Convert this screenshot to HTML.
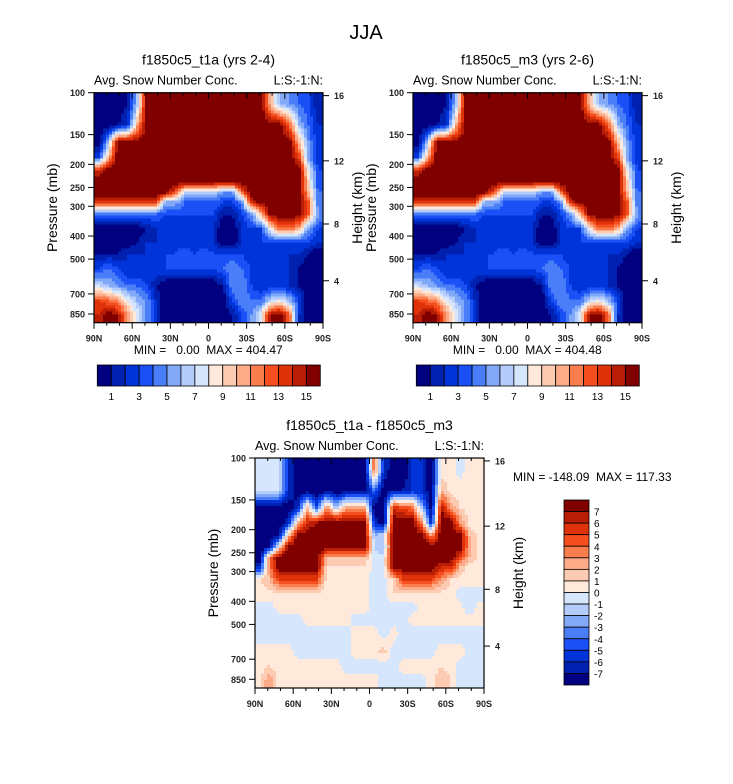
<!DOCTYPE html>
<html><head><meta charset="utf-8"><style>
html,body{margin:0;padding:0;background:#fff;}
svg{display:block;font-family:"Liberation Sans",sans-serif;}
text{white-space:pre;}
</style></head><body>
<svg id="root" width="733" height="784" viewBox="0 0 733 784">
<text x="366" y="39" font-size="20" text-anchor="middle">JJA</text>
</svg>
<script>
// ---- data ----
const latTicks = ["90N","60N","30N","0","30S","60S","90S"];
const pressTicks = [100,150,200,250,300,400,500,700,850];
const heightTicks = [4,8,12,16];
const pEdges = [100,125,150,175,200,225,250,275,300,350,400,450,500,600,700,800,924];
const topLevelLabels = ["1","3","5","7","9","11","13","15"];
const diffLevelLabels = ["7","6","5","4","3","2","1","0","-1","-2","-3","-4","-5","-6","-7"];
const t1aValues = [
[0,0,0,1,6,16,16,16,16,16,16,16,16,16,16,16,16,16,10,6,5,4,3,1],
[0,0,1,2,10,16,16,16,16,16,16,16,16,16,16,16,16,16,16,16,12,6,4,2],
[0,6,16,16,16,16,16,16,16,16,16,16,16,16,16,16,16,16,16,16,16,10,5,2],
[3,10,16,16,16,16,16,16,16,16,16,16,16,16,16,16,16,16,16,16,16,13,5,2],
[14,16,16,16,16,16,16,16,16,16,16,16,16,16,16,16,16,16,16,16,16,16,8,3],
[16,16,16,16,16,16,16,16,16,16,16,16,16,16,16,16,16,16,16,16,16,16,9,3],
[16,16,16,16,16,16,16,16,13,7,7,7,7,5,5,12,16,16,16,16,16,16,10,4],
[14,14,14,14,14,14,14,6,6,4,4,4,4,3,3,5,14,16,16,16,16,16,12,4],
[4,4,4,4,4,4,4,3,3,3,3,3,3,1,1,3,5,10,16,16,16,16,12,5],
[0,0,0,0,0,1,2,2,2,2,2,2,2,0,0,2,3,3,8,12,12,10,5,3],
[0,0,0,0,1,2,2,2,2,2,2,2,2,0,0,2,2,3,3,3,3,3,3,2],
[1,1,1,2,2,2,2,3,3,4,3,4,3,3,3,3,2,2,2,2,2,2,1,0],
[3,4,3,2,2,2,3,3,3,3,3,3,3,4,5,4,3,3,3,2,2,1,0,0],
[7,6,5,4,4,3,1,0,0,0,0,0,0,1,5,5,3,2,2,2,2,1,0,0],
[13,12,11,8,6,5,2,0,0,0,0,0,0,0,3,5,4,4,7,8,6,3,0,0],
[14,16,15,11,8,5,2,0,0,0,0,0,0,0,1,3,5,8,15,16,12,2,0,0]
];
const m3Values = t1aValues.map(r => r.slice());
const diffValues = [
[-0.5,-0.5,-0.5,-6,-8,-8,-8,-8,-8,-8,-8,-8,4,-6,-8,-8,-6,-6,-8,0.5,0.5,-0.5,0.5,0.5],
[-0.5,-0.5,-0.5,-6,-8,-8,-8,-8,-8,-8,-8,-8,-4,-8,-7,-7,-6,-6,-8,2,0.5,0.5,0.5,0.5],
[-8,-8,-8,-8,-6,2,-5,4,-2,3,3,3,-8,-8,6,5,4,-2,-8,7,3,1,0.5,0.5],
[-8,-8,-8,-6,2,6,7,8,8,8,8,8,-6,-8,8,8,8,3,-6,8,8,3,0.5,0.5],
[-8,-8,-7,2,8,8,8,8,8,8,8,8,-2,-1,8,8,8,8,3,8,8,8,2,0.5],
[-8,-7,0.5,8,8,8,8,8,8,8,8,8,-1,-2,8,8,8,8,8,8,8,8,2,0.5],
[-8,4,8,8,8,8,8,2,2,2,2,2,-0.5,-0.5,8,8,8,8,8,8,8,5,2,0.5],
[-6,3,8,8,8,8,8,1,1,1,1,1,-0.5,-0.5,8,8,8,8,8,6,6,2,0.5,0.5],
[1,2,5,5,5,5,5,0.5,0.5,0.5,0.5,0.5,-0.5,-0.5,1,5,5,5,5,3,1,0.5,0.5,0.5],
[0.5,0.5,0.5,0.5,0.5,0.5,0.5,0.5,0.5,0.5,0.5,0.5,-0.5,-0.5,1,1,1,1,0.5,0.5,0.5,-0.5,-0.5,-0.5],
[-0.5,-0.5,0.5,0.5,0.5,0.5,0.5,0.5,0.5,0.5,0.5,0.5,-0.5,-0.5,-0.5,-0.5,-0.5,0.5,0.5,0.5,0.5,0.5,-1,0.5],
[-0.5,-0.5,-0.5,-0.5,-0.5,0.5,0.5,0.5,0.5,0.5,-0.5,-0.5,-0.5,-0.5,-0.5,-0.5,0.5,0.5,0.5,0.5,0.5,0.5,0.5,0.5],
[-0.5,-0.5,-0.5,-0.5,-0.5,-0.5,-0.5,-0.5,-0.5,-0.5,0.5,0.5,0.5,-0.5,0.5,-0.5,-0.5,-0.5,-0.5,-0.5,-0.5,-0.5,-0.5,-0.5],
[0.5,0.5,0.5,0.5,-0.5,-0.5,-0.5,-0.5,-0.5,-0.5,0.5,0.5,0.5,1.5,-0.5,-0.5,-0.5,-0.5,-0.5,0.5,0.5,0.5,-0.5,-0.5],
[0.5,1,0.5,0.5,0.5,0.5,0.5,0.5,0.5,-0.5,-0.5,-0.5,-0.5,-0.5,-0.5,0.5,0.5,0.5,0.5,1,0.5,-0.5,-0.5,-0.5],
[0.5,3,0.5,0.5,0.5,0.5,0.5,0.5,0.5,0.5,0.5,0.5,0.5,-0.5,-0.5,-0.5,-0.5,-0.5,0.5,2,1,-0.5,-0.5,-0.5]
];
const palette = ["#000080","#0020b0","#0033d8","#1a50f5","#4a7ef8","#82a8f8","#b3ccfb","#d6e6fc","#ffe9da","#fdcab2","#fcaa88","#fa7d4e","#f54f1f","#e03208","#b81d05","#800000"];

// ---- drawing ----
const NS = "http://www.w3.org/2000/svg";
const root = document.getElementById("root");
function mk(tag, attrs, parent) {
  const e = document.createElementNS(NS, tag);
  for (const k in attrs) e.setAttribute(k, attrs[k]);
  (parent || root).appendChild(e);
  return e;
}
const PW = 229, PH = 230, STEP = 3;
function stdP(zkm) {
  const z = zkm * 1000;
  if (z <= 11000) return 1013.25 * Math.pow(1 - 2.2558e-5 * z, 5.2559);
  return 226.3 * Math.exp(-(z - 11000) / 6341.6);
}
function panel(cfg) {
  const x0 = cfg.x, y0 = cfg.y;
  const xOfLat = lat => x0 + (90 - lat) / 180 * PW;
  const yOfP = p => y0 + 103.4 * Math.log(p / 100);
  const g = mk("g", {});
  
  
  const fg = mk("g", {"shape-rendering": "crispEdges"}, g);
  
  
  const vals = cfg.values;
  const nr = vals.length, nc = vals[0].length;
  const xc = [], yc = [];
  for (let c = 0; c < nc; c++) xc.push((xOfLat(90 - 180 * c / nc) + xOfLat(90 - 180 * (c + 1) / nc)) / 2);
  for (let r = 0; r < nr; r++) yc.push((yOfP(pEdges[r]) + yOfP(pEdges[r + 1])) / 2);
  function frac(arr, v) {
    if (v <= arr[0]) return [0, 0, 0];
    const n = arr.length;
    if (v >= arr[n - 1]) return [n - 1, n - 1, 0];
    for (let i = 0; i < n - 1; i++) {
      if (v >= arr[i] && v <= arr[i + 1]) return [i, i + 1, (v - arr[i]) / (arr[i + 1] - arr[i])];
    }
    return [0, 0, 0];
  }
  for (let yy = y0; yy < y0 + PH; yy += STEP) {
    const hh = Math.min(STEP, y0 + PH - yy);
    const [r0, r1, ty] = frac(yc, yy + hh / 2);
    let runStart = x0, runIdx = -1;
    const flush = (xe) => {
      if (runIdx < 0) return;
      const cell = mk("rect", {x: runStart, y: yy, width: xe - runStart, height: hh, fill: palette[runIdx]}, fg);
      
      
    };
    for (let xx = x0; xx < x0 + PW; xx += STEP) {
      const ww = Math.min(STEP, x0 + PW - xx);
      const [c0, c1, tx] = frac(xc, xx + ww / 2);
      const v = (vals[r0][c0] * (1 - tx) + vals[r0][c1] * tx) * (1 - ty) +
                (vals[r1][c0] * (1 - tx) + vals[r1][c1] * tx) * ty;
      const idx = Math.max(0, Math.min(15, Math.floor(v) + cfg.offset));
      if (idx !== runIdx) { flush(xx); runStart = xx; runIdx = idx; }
    }
    flush(x0 + PW);
  }
  mk("rect", {x: x0, y: y0, width: PW, height: PH, fill: "none", stroke: "#000", "stroke-width": 1.2}, g);
  for (let lat = 90; lat >= -90; lat -= 10) {
    const x = xOfLat(lat), major = lat % 30 === 0;
    const L = major ? 6 : 3;
    mk("line", {x1: x, y1: y0 + PH, x2: x, y2: y0 + PH + L, stroke: "#000", "stroke-width": 1}, g);
    mk("line", {x1: x, y1: y0, x2: x, y2: y0 + L, stroke: "#000", "stroke-width": 1}, g);
  }
  latTicks.forEach((t, i) => {
    const lt = mk("text", {x: xOfLat(90 - 30 * i), y: y0 + PH + 19, "font-size": 9, "font-weight": "bold", "text-anchor": "middle", fill: "#222"}, g);
    lt.textContent = t;
    
    
  });
  pressTicks.forEach(p => {
    const y = yOfP(p);
    mk("line", {x1: x0 - 6, y1: y, x2: x0, y2: y, stroke: "#000"}, g);
    const pt = mk("text", {x: x0 - 9, y: y + 3.5, "font-size": 9, "font-weight": "bold", "text-anchor": "end", fill: "#222"}, g);
    pt.textContent = p;
    
    
  });
  heightTicks.forEach(h => {
    const y = yOfP(stdP(h));
    mk("line", {x1: x0 + PW, y1: y, x2: x0 + PW + 6, y2: y, stroke: "#000"}, g);
    const ht = mk("text", {x: x0 + PW + 11, y: y + 3.5, "font-size": 9, "font-weight": "bold", fill: "#222"}, g);
    ht.textContent = h;
    
    
  });
  const t1 = mk("text", {x: x0 + PW / 2, y: y0 - 28, "font-size": 14, "text-anchor": "middle"}, g);
  t1.textContent = cfg.title;
  
  
  const t2 = mk("text", {x: x0, y: y0 - 8, "font-size": 12.5}, g);
  t2.textContent = "Avg. Snow Number Conc.";
  
  
  const t3 = mk("text", {x: x0 + PW, y: y0 - 8, "font-size": 12.5, "text-anchor": "end"}, g);
  t3.textContent = "L:S:-1:N:";
  
  
  const ya = mk("text", {x: 0, y: 0, "font-size": 14, "text-anchor": "middle", transform: "translate(" + (x0 - 37) + "," + (y0 + PH / 2) + ") rotate(-90)"}, g);
  ya.textContent = "Pressure (mb)";
  
  
  const yb = mk("text", {x: 0, y: 0, "font-size": 14, "text-anchor": "middle", transform: "translate(" + (x0 + PW + 39) + "," + (y0 + PH / 2) + ") rotate(-90)"}, g);
  yb.textContent = "Height (km)";
  
  
  return g;
}
function hColorbar(x0, y0, name, statText) {
  const g = mk("g", {});
  
  
  const st = mk("text", {x: x0 + 111, y: y0 - 11, "font-size": 12, "text-anchor": "middle"}, g);
  st.textContent = statText;
  
  
  const w = 223 / 16, h = 21;
  palette.forEach((c, i) => {
    const b = mk("rect", {x: x0 + i * w, y: y0, width: w, height: h, fill: c, stroke: "#000", "stroke-width": 0.8}, g);
    
    
  });
  topLevelLabels.forEach((t, i) => {
    const l = mk("text", {x: x0 + (1 + 2 * i) * w, y: y0 + h + 14, "font-size": 10, "text-anchor": "middle"}, g);
    l.textContent = t;
    
    
  });
}
panel({x: 94, y: 92.7, values: t1aValues, offset: 0, name: "panel-t1a", title: "f1850c5_t1a (yrs 2-4)"});
panel({x: 413, y: 92.7, values: m3Values, offset: 0, name: "panel-m3", title: "f1850c5_m3 (yrs 2-6)"});
panel({x: 255, y: 458, values: diffValues, offset: 8, name: "panel-diff", title: "f1850c5_t1a - f1850c5_m3"});
hColorbar(97.3, 365, "colorbar-t1a", "MIN =   0.00  MAX = 404.47");
hColorbar(416.3, 365, "colorbar-m3", "MIN =   0.00  MAX = 404.48");
(function () {
  const g = mk("g", {});
  
  
  const x0 = 564, y0 = 500, w = 25, h = 185 / 16;
  for (let i = 0; i < 16; i++) {
    const b = mk("rect", {x: x0, y: y0 + i * h, width: w, height: h, fill: palette[15 - i], stroke: "#000", "stroke-width": 0.8}, g);
    
    
  }
  diffLevelLabels.forEach((t, i) => {
    const l = mk("text", {x: x0 + w + 5, y: y0 + (i + 1) * h + 4, "font-size": 10}, g);
    l.textContent = t;
    
    
  });
  const st = mk("text", {x: 513, y: 481, "font-size": 12}, g);
  st.textContent = "MIN = -148.09  MAX = 117.33";
  
  
})();
</script>
</body></html>
